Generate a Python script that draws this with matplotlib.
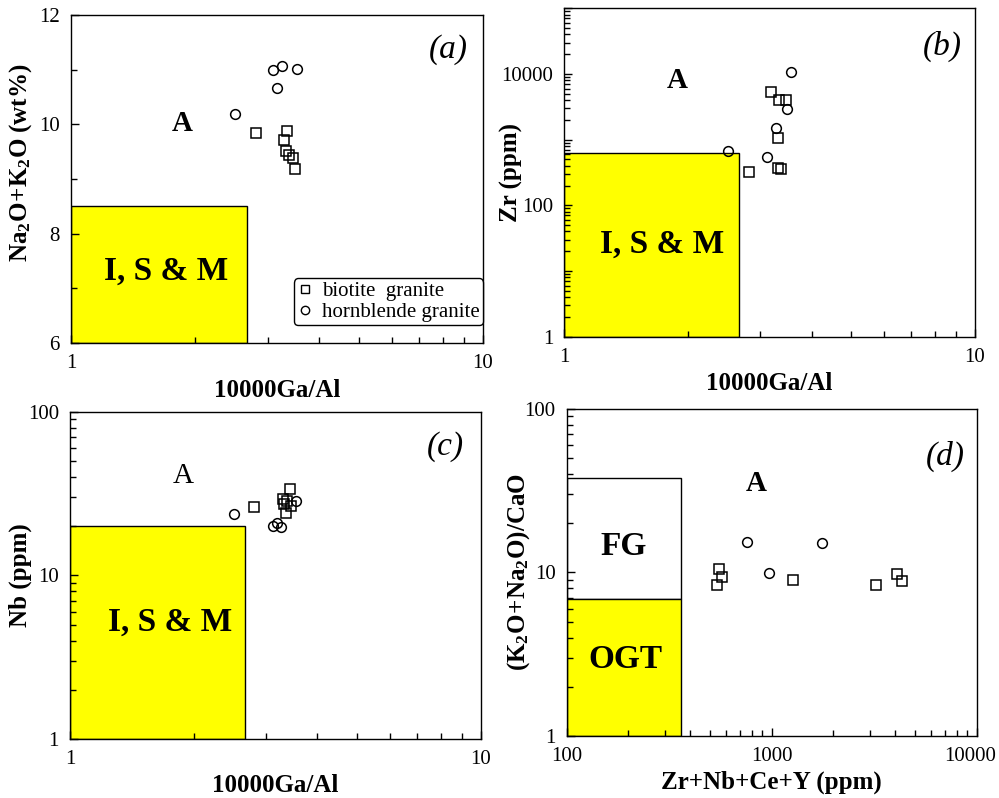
import numpy as np
import matplotlib
matplotlib.use("Agg")
import matplotlib.pyplot as plt
import matplotlib.transforms as mtransforms
from matplotlib.lines import Line2D
from matplotlib.patches import Rectangle
from matplotlib.ticker import LogLocator, FuncFormatter, NullFormatter, MultipleLocator

plt.rcParams["font.family"] = "Liberation Serif"
plt.rcParams["mathtext.fontset"] = "custom"
plt.rcParams["mathtext.rm"] = "Liberation Serif"
plt.rcParams["mathtext.bf"] = "Liberation Serif:bold"
plt.rcParams["mathtext.it"] = "Liberation Serif:italic"

YELLOW = "#ffff00"

# (a) 10000Ga/Al vs Na2O+K2O
a_bio_x = [2.81, 3.34, 3.29, 3.32, 3.39, 3.46, 3.50]
a_bio_y = [9.85, 9.87, 9.71, 9.52, 9.44, 9.38, 9.18]
a_hbl_x = [3.10, 3.26, 3.54, 3.17, 2.50]
a_hbl_y = [10.99, 11.07, 11.01, 10.66, 10.18]

# (b) 10000Ga/Al vs Zr
b_bio_x = [2.82, 3.18, 3.34, 3.47, 3.32, 3.32, 3.37]
b_bio_y = [324, 5320, 4055, 4055, 1050, 365, 356]
b_hbl_x = [2.51, 3.56, 3.49, 3.27, 3.12]
b_hbl_y = [679, 10760, 2950, 1495, 550]

# (c) 10000Ga/Al vs Nb
c_bio_x = [2.81, 3.42, 3.30, 3.31, 3.35, 3.44, 3.38]
c_bio_y = [26.3, 33.7, 29.5, 27.5, 24.2, 26.5, 28.5]
c_hbl_x = [2.50, 3.12, 3.18, 3.26, 3.55]
c_hbl_y = [23.6, 20.0, 20.9, 19.7, 28.6]

# (d) Zr+Nb+Ce+Y vs (K2O+Na2O)/CaO
d_bio_x = [551, 574, 541, 1274, 3213, 4065, 4305]
d_bio_y = [10.5, 9.35, 8.40, 9.0, 8.40, 9.75, 8.9]
d_hbl_x = [755, 1766, 967]
d_hbl_y = [15.3, 15.2, 9.99]

# discrimination field boundaries
GA_AL_LIMIT = 2.67
ALK_LIMIT = 8.5
ZR_LIMIT = 630
NB_LIMIT = 20
ZNCY_LIMIT = 360
FG_TOP = 38
OGT_TOP = 6.9

fig = plt.figure(figsize=(9.99, 7.98), dpi=100)
ax_a = fig.add_axes([0.0711, 0.5702, 0.4124, 0.4110])
ax_b = fig.add_axes([0.5649, 0.5781, 0.4111, 0.4115])
ax_c = fig.add_axes([0.0701, 0.0736, 0.4114, 0.4105])
ax_d = fig.add_axes([0.5673, 0.0777, 0.4104, 0.4098])


def style_axis(ax):
    for s in ax.spines.values():
        s.set_linewidth(1.0)
    ax.tick_params(which="both", direction="in", top=False, right=False,
                   labelsize=15, width=1.0)
    ax.tick_params(which="major", length=6, pad=8)
    ax.tick_params(which="minor", length=4)


def even_decades(v, pos):
    e = int(round(np.log10(v)))
    return f"{int(round(v))}" if e % 2 == 0 else ""


def plain(v, pos):
    return f"{int(round(v))}"


def log_ticks(axis, fmt):
    axis.set_major_locator(LogLocator(base=10))
    axis.set_minor_locator(LogLocator(base=10, subs=np.arange(2, 10)))
    axis.set_major_formatter(FuncFormatter(fmt))
    axis.set_minor_formatter(NullFormatter())


def plot_points(ax, bx, by, hx, hy):
    ax.plot(bx, by, ls="none", marker="s", ms=7, mfc="none", mec="black",
            mew=1.1, zorder=5)
    ax.plot(hx, hy, ls="none", marker="o", ms=7, mfc="none", mec="black",
            mew=1.1, zorder=5)


def field_box(ax, x0, y0, x1, y1, color):
    ax.add_patch(Rectangle((x0, y0), x1 - x0, y1 - y0, facecolor=color,
                           edgecolor="black", linewidth=1.0, zorder=1))


bold_big = dict(fontsize=24, fontweight="bold", ha="center", va="center")
panel_lbl = dict(fontsize=24, fontstyle="italic", ha="center", va="center")

# (a)
ax = ax_a
ax.set_xscale("log")
ax.set_xlim(1, 10)
ax.set_ylim(6, 12)
log_ticks(ax.xaxis, plain)
ax.yaxis.set_major_locator(MultipleLocator(2))
ax.yaxis.set_minor_locator(MultipleLocator(1))
field_box(ax, 1, 6, GA_AL_LIMIT, ALK_LIMIT, YELLOW)
plot_points(ax, a_bio_x, a_bio_y, a_hbl_x, a_hbl_y)
ax.text(0.232, 0.22, "I, S & M", transform=ax.transAxes, **bold_big)
ax.text(0.269, 0.668, "A", transform=ax.transAxes, fontsize=21,
        fontweight="bold", ha="center", va="center")
ax.text(0.917, 0.893, "(a)", transform=ax.transAxes, **panel_lbl)
ax.set_xlabel("10000Ga/Al", fontsize=18, fontweight="bold", labelpad=4)
ax.set_ylabel(r"$\mathbf{Na_2O\!+\!K_2O\ (wt\%)}$", fontsize=18)
ax.yaxis.set_label_coords(-0.09, 0.55)
handles = [
    Line2D([], [], ls="none", marker="s", ms=6, mfc="none", mec="black", mew=1.0),
    Line2D([], [], ls="none", marker="o", ms=6, mfc="none", mec="black", mew=1.0),
]
leg = ax.legend(handles, ["biotite  granite", "hornblende granite"],
                loc="lower right", bbox_to_anchor=(1.0, 0.055),
                borderaxespad=0, fontsize=15, frameon=True, fancybox=True,
                handlelength=0.8, handletextpad=0.4, labelspacing=0.05,
                borderpad=0.15, framealpha=1)
leg.get_frame().set_edgecolor("black")
leg.get_frame().set_linewidth(1.0)
style_axis(ax)

# (b)
ax = ax_b
ax.set_xscale("log")
ax.set_yscale("log")
ax.set_xlim(1, 10)
ax.set_ylim(1, 1e5)
log_ticks(ax.xaxis, plain)
log_ticks(ax.yaxis, even_decades)
field_box(ax, 1, 1, GA_AL_LIMIT, ZR_LIMIT, YELLOW)
plot_points(ax, b_bio_x, b_bio_y, b_hbl_x, b_hbl_y)
ax.text(0.239, 0.282, "I, S & M", transform=ax.transAxes, **bold_big)
ax.text(0.274, 0.78, "A", transform=ax.transAxes, fontsize=21,
        fontweight="bold", ha="center", va="center")
ax.text(0.92, 0.883, "(b)", transform=ax.transAxes, **panel_lbl)
ax.set_xlabel("10000Ga/Al", fontsize=18, fontweight="bold", labelpad=4)
ax.set_ylabel("Zr (ppm)", fontsize=18, fontweight="bold")
ax.yaxis.set_label_coords(-0.10, 0.5)
style_axis(ax)

# (c)
ax = ax_c
ax.set_xscale("log")
ax.set_yscale("log")
ax.set_xlim(1, 10)
ax.set_ylim(1, 100)
log_ticks(ax.xaxis, plain)
log_ticks(ax.yaxis, plain)
field_box(ax, 1, 1, GA_AL_LIMIT, NB_LIMIT, YELLOW)
plot_points(ax, c_bio_x, c_bio_y, c_hbl_x, c_hbl_y)
ax.text(0.243, 0.357, "I, S & M", transform=ax.transAxes, **bold_big)
ax.text(0.275, 0.804, "A", transform=ax.transAxes, fontsize=21,
        ha="center", va="center")
ax.text(0.914, 0.893, "(c)", transform=ax.transAxes, **panel_lbl)
ax.set_xlabel("10000Ga/Al", fontsize=18, fontweight="bold", labelpad=3)
ax.set_ylabel("Nb (ppm)", fontsize=18, fontweight="bold")
ax.yaxis.set_label_coords(-0.092, 0.5)
style_axis(ax)

# (d)
ax = ax_d
ax.set_xscale("log")
ax.set_yscale("log")
ax.set_xlim(100, 10000)
ax.set_ylim(1, 100)
log_ticks(ax.xaxis, plain)
log_ticks(ax.yaxis, plain)
field_box(ax, 100, OGT_TOP, ZNCY_LIMIT, FG_TOP, "none")
field_box(ax, 100, 1, ZNCY_LIMIT, OGT_TOP, YELLOW)
plot_points(ax, d_bio_x, d_bio_y, d_hbl_x, d_hbl_y)
ax.text(0.14, 0.579, "FG", transform=ax.transAxes, **bold_big)
ax.text(0.143, 0.235, "OGT", transform=ax.transAxes, **bold_big)
ax.text(0.462, 0.771, "A", transform=ax.transAxes, fontsize=21,
        fontweight="bold", ha="center", va="center")
ax.text(0.923, 0.854, "(d)", transform=ax.transAxes, **panel_lbl)
ax.set_xlabel("Zr+Nb+Ce+Y (ppm)", fontsize=18, fontweight="bold", labelpad=3)
ax.set_ylabel(r"$\mathbf{(K_2O\!+\!Na_2O)/CaO}$", fontsize=18)
ax.yaxis.set_label_coords(-0.085, 0.5)
style_axis(ax)

# nudge the last x tick label of (d) so it stays inside the figure
fig.canvas.draw()
last = [t for t in ax_d.get_xticklabels() if t.get_text() == "10000"]
for t in last:
    t.set_transform(t.get_transform() +
                    mtransforms.ScaledTranslation(-7 / 100, 0, fig.dpi_scale_trans))

fig.savefig("out.png", dpi=100)
